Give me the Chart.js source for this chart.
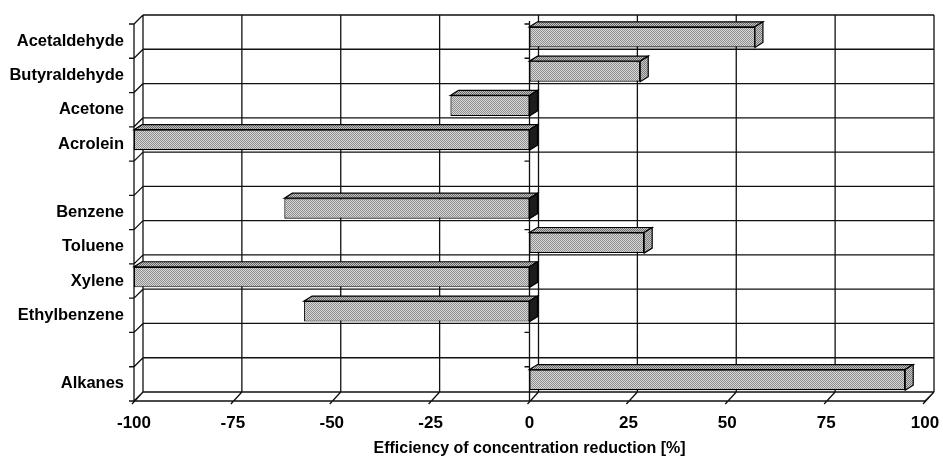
<!DOCTYPE html>
<html>
<head>
<meta charset="utf-8">
<script src="https://cdn.jsdelivr.net/npm/chart.js@4.4.1/dist/chart.umd.min.js"></script>
<style>
  html, body { margin: 0; padding: 0; background: #fff; }
  #wrap { width: 943px; height: 458px; }
</style>
</head>
<body>
<div id="wrap"><canvas id="chart"></canvas></div>
<script>
const categories = ['Acetaldehyde', 'Butyraldehyde', 'Acetone', 'Acrolein', '', 'Benzene', 'Toluene', 'Xylene', 'Ethylbenzene', '', 'Alkanes'];
const reduction = [57, 28, -20, -100, null, -62, 29, -100, -57, null, 95];
const xTicks = [-100, -75, -50, -25, 0, 25, 50, 75, 100];
const axisTitle = 'Efficiency of concentration reduction [%]';

const FONT = '"Liberation Sans", Arial, sans-serif';
const DX = 9, DY = -9;      // depth of the back wall
const BDX = 8, BDY = -5;    // depth of a bar
const LIFT = 4;             // bars sit a little behind the front plane

const canvas = document.getElementById('chart');
const c2d = canvas.getContext('2d');

/* Checkered grey fill like the printed halftone */
function stipple(light, dark) {
    const tile = document.createElement('canvas');
    tile.width = 2; tile.height = 2;
    const g = tile.getContext('2d');
    g.fillStyle = light;
    g.fillRect(0, 0, 2, 2);
    g.fillStyle = dark;
    g.fillRect(0, 0, 1, 1);
    g.fillRect(1, 1, 1, 1);
    return c2d.createPattern(tile, 'repeat');
}
const frontFill = stipple('#d8d8d8', '#8e8e8e');
const topFill = stipple('#c4c4c4', '#6a6a6a');
const sideFill = stipple('#cacaca', '#7a7a7a');

function poly(ctx, pts, fill) {
    ctx.beginPath();
    ctx.moveTo(pts[0][0], pts[0][1]);
    pts.slice(1).forEach(p => ctx.lineTo(p[0], p[1]));
    ctx.closePath();
    ctx.fillStyle = fill;
    ctx.fill();
    ctx.stroke();
}

/* Walls, floor and the 3D faces of the bars */
const frame3d = {
    id: 'frame3d',
    beforeDatasetsDraw(chart) {
        const { ctx, chartArea: a, scales: { x } } = chart;
        const n = categories.length;
        const band = (a.bottom - a.top) / n;
        const zx = x.getPixelForValue(0);
        ctx.save();
        ctx.strokeStyle = '#111';
        ctx.lineWidth = 1.3;
        ctx.beginPath();
        xTicks.forEach(v => {
            const px = x.getPixelForValue(v);
            ctx.moveTo(px + DX, a.top + DY);
            ctx.lineTo(px + DX, a.bottom + DY);
            ctx.moveTo(px - 2, a.bottom + 3);
            ctx.lineTo(px + DX, a.bottom + DY);
        });
        for (let i = 0; i <= n; i++) {
            const py = a.top + i * band;
            ctx.moveTo(a.left + DX, py + DY);
            ctx.lineTo(a.right + DX, py + DY);
            ctx.moveTo(a.left - 5, py);
            ctx.lineTo(a.left, py);
            ctx.lineTo(a.left + DX, py + DY);
            ctx.moveTo(zx - 5, py);
            ctx.lineTo(zx, py);
        }
        ctx.moveTo(a.left, a.top);
        ctx.lineTo(a.left, a.bottom);
        ctx.lineTo(a.right, a.bottom);
        ctx.lineTo(a.right + DX, a.bottom + DY);
        ctx.moveTo(zx, a.top - 3);
        ctx.lineTo(zx, a.bottom);
        ctx.stroke();
        ctx.restore();

        ctx.save();
        ctx.translate(0, -LIFT);
    },
    afterDatasetsDraw(chart) {
        const ctx = chart.ctx;
        const meta = chart.getDatasetMeta(0);
        ctx.strokeStyle = '#000';
        ctx.lineWidth = 1.2;
        meta.data.forEach((bar, i) => {
            if (reduction[i] == null) return;
            const { x: vx, y, base, height } = bar.getProps(['x', 'y', 'base', 'height'], true);
            const l = Math.min(vx, base), r = Math.max(vx, base);
            const t = y - height / 2, b = y + height / 2;
            poly(ctx, [[l, t], [l + BDX, t + BDY], [r + BDX, t + BDY], [r, t]], topFill);
            poly(ctx, [[r, t], [r + BDX, t + BDY], [r + BDX, b + BDY], [r, b]],
                reduction[i] < 0 ? '#1c1c1c' : sideFill);
        });
        ctx.restore();
    }
};

new Chart(canvas, {
    type: 'bar',
    data: {
        labels: categories,
        datasets: [{
            data: reduction,
            backgroundColor: frontFill,
            borderColor: '#000',
            borderWidth: 1.2,
            borderSkipped: false,
            categoryPercentage: 1,
            barPercentage: 0.6
        }]
    },
    options: {
        indexAxis: 'y',
        responsive: true,
        maintainAspectRatio: false,
        animation: false,
        layout: { padding: { left: 10, right: 18, top: 24, bottom: 0 } },
        plugins: {
            legend: { display: false },
            tooltip: { enabled: false }
        },
        scales: {
            x: {
                min: -100,
                max: 100,
                afterBuildTicks: s => { s.ticks = xTicks.map(v => ({ value: v })); },
                afterFit: s => {
                    s.height = 57;
                    s.paddingLeft = 0;
                    s.paddingRight = 0;
                },
                grid: { display: false, drawTicks: false },
                border: { display: false },
                ticks: {
                    padding: 12,
                    color: '#000',
                    maxRotation: 0,
                    autoSkip: false,
                    font: { family: FONT, size: 17, weight: 'bold' },
                    callback: v => v
                },
                title: {
                    display: true,
                    text: axisTitle,
                    color: '#000',
                    font: { family: FONT, size: 16, weight: 'bold' },
                    padding: { top: 0, bottom: 0 }
                }
            },
            y: {
                afterFit: s => { s.width = 124; },
                grid: { display: false, drawTicks: false },
                border: { display: false },
                ticks: {
                    padding: 10,
                    color: '#000',
                    autoSkip: false,
                    font: { family: FONT, size: 16.5, weight: 'bold' }
                }
            }
        }
    },
    plugins: [frame3d]
});
</script>
</body>
</html>
